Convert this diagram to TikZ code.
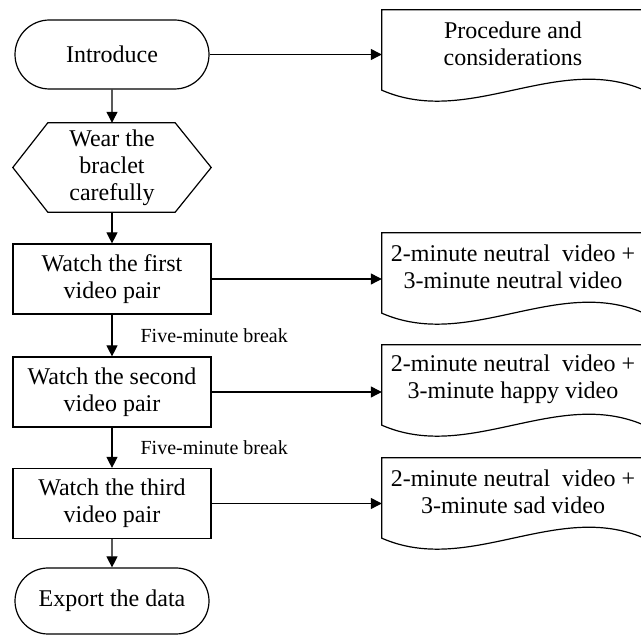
\documentclass[tikz,border=0pt]{standalone}
\usepackage{fontspec}
\setmainfont{Liberation Serif}
\usetikzlibrary{shapes.misc,arrows.meta,calc}

\newcommand{\mainsize}{\fontsize{24}{27}\selectfont}
\newcommand{\breaksize}{\fontsize{20}{22}\selectfont}
% outline of a document box: flat top, wavy bottom
\newcommand{\docoutline}[1]{%
  \draw[flowline] (#1.north west) -- (#1.north east) -- ($(#1.south east)+(0,12)$)
    .. controls ($(#1.south east)+(-87,-26)$) and ($(#1.south west)+(87,50)$) .. ($(#1.south west)+(0,12)$) -- cycle;}

\begin{document}
\begin{tikzpicture}[x=1pt,y=1pt,yscale=-1,xscale=1,
  flowline/.style={line width=1.2pt},
  arrowline/.style={line width=1.2pt,-{Triangle[length=11pt,width=11pt]}},
  termbox/.style={rounded rectangle,draw,line width=1.2pt,minimum width=198pt,minimum height=69pt,inner sep=2pt,font=\mainsize},
  hexbox/.style={rectangle,minimum width=198pt,minimum height=89pt,inner sep=2pt,align=center,font=\mainsize},
  procbox/.style={rectangle,draw,line width=1.2pt,minimum width=198pt,minimum height=70pt,inner sep=2pt,align=center,font=\mainsize},
  docbox/.style={rectangle,minimum width=262pt,minimum height=68pt,inner sep=2pt,align=center,font=\mainsize},
  breaklabel/.style={anchor=west,xshift=26pt,inner sep=2pt,font=\breaksize}]
\useasboundingbox (0,0) rectangle (641,636);

%Shape: Terminators and steps
\node[termbox] (intro) at (112,54.5) {Introduce};
\node[hexbox] (wear) at (112,167.5) {Wear the\\braclet\\carefully};
\draw[flowline] (wear.west) -- ($(wear.north west)+(35,0)$) -- ($(wear.north east)+(-36,0)$) -- (wear.east)
  -- ($(wear.south east)+(-36,0)$) -- ($(wear.south west)+(35,0)$) -- cycle;
\node[procbox] (first) at (112,279) {Watch the first\\video pair};
\node[procbox] (second) at (112,392) {Watch the second\\video pair};
\node[procbox] (third) at (112,503.5) {Watch the third\\video pair};
\node[termbox,minimum height=66pt] (export) at (112,601) {Export the data};

%Shape: Documents
\node[docbox] (proc) at (513,44) {Procedure and\\considerations};
\docoutline{proc}
\node[docbox] (neutral) at (513,267) {2-minute neutral~ video +\\3-minute neutral video};
\docoutline{neutral}
\node[docbox] (happy) at (513,379) {2-minute neutral~ video +\\3-minute happy video};
\docoutline{happy}
\node[docbox] (sad) at (513,492) {2-minute neutral~ video +\\3-minute sad video};
\docoutline{sad}

%Straight Lines
\draw[arrowline] (intro) -- (wear);
\draw[arrowline] (wear) -- (first);
\draw[arrowline] (first) -- node[breaklabel] {Five-minute break} (second);
\draw[arrowline] (second) -- node[breaklabel] {Five-minute break} (third);
\draw[arrowline] (third) -- (export);
\draw[arrowline] (intro.east) -- (intro.east -| proc.west);
\draw[arrowline] (first.east) -- (first.east -| neutral.west);
\draw[arrowline] (second.east) -- (second.east -| happy.west);
\draw[arrowline] (third.east) -- (third.east -| sad.west);

\end{tikzpicture}
\end{document}
